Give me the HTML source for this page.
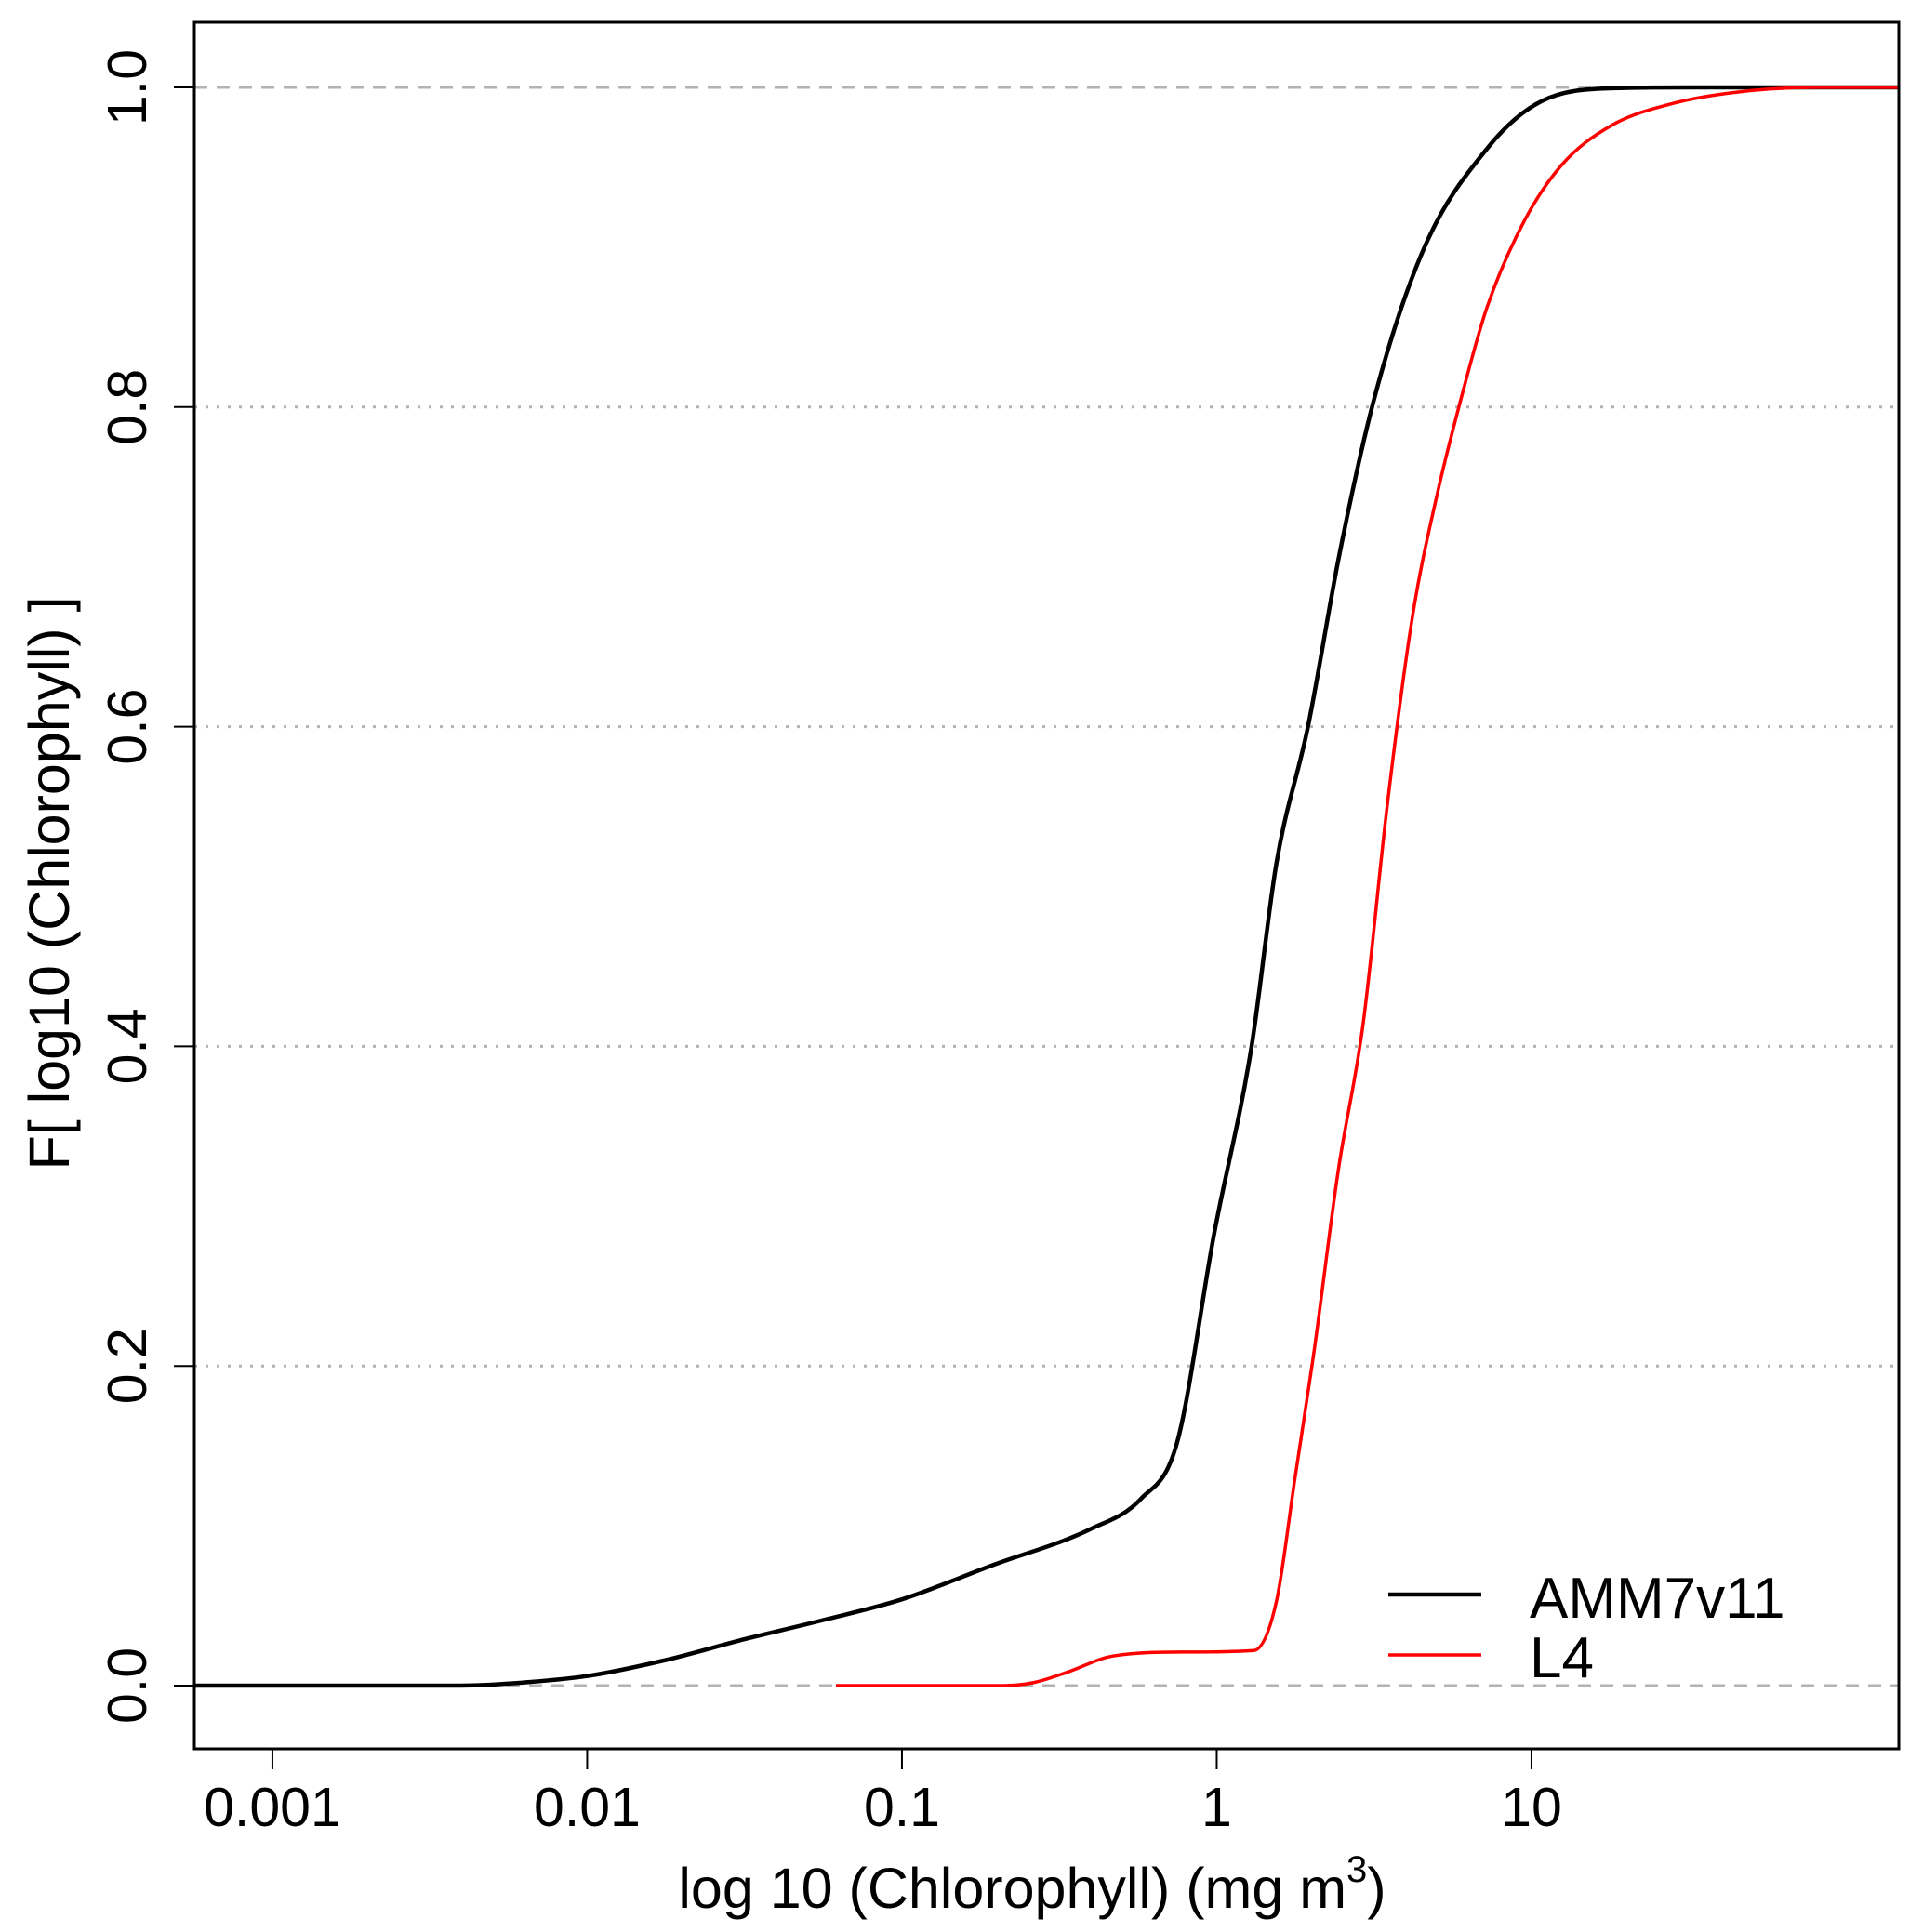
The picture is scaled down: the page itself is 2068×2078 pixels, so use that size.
<!DOCTYPE html>
<html><head><meta charset="utf-8"><style>
html,body{margin:0;padding:0;background:#fff;}
svg{display:block;font-family:"Liberation Sans",sans-serif;}
</style></head><body>
<svg id="chart" width="2068" height="2078" viewBox="0 0 2068 2078" xmlns="http://www.w3.org/2000/svg" style="position:absolute;left:0;top:0"></svg>
<script>
const xTickVals=[0.001,0.01,0.1,1,10];
const xTickLabels=["0.001","0.01","0.1","1","10"];
const yTickVals=[0,0.2,0.4,0.6,0.8,1.0];
const yTickLabels=["0.0","0.2","0.4","0.6","0.8","1.0"];
const ammLogX=[-3.25,-2.4,-2.2,-2.0,-1.75,-1.5,-1.25,-1.0,-0.717,-0.4,-0.24,-0.126,-0.008,0.11,0.19,0.29,0.39,0.504,0.66,0.86,1.01,1.2,1.5,2.2];
const ammF=[0,0,0.002,0.006,0.016,0.029,0.041,0.054,0.075,0.098,0.117,0.152,0.283,0.399,0.515,0.6,0.708,0.808,0.9,0.962,0.989,0.999,1,1];
const l4LogX=[-1.21,-0.68,-0.58,-0.48,-0.33,-0.1,0.118,0.189,0.248,0.307,0.386,0.465,0.543,0.622,0.701,0.78,0.858,0.976,1.094,1.252,1.45,1.65,1.9,2.2];
const l4F=[0,0,0.002,0.008,0.0185,0.021,0.022,0.052,0.129,0.206,0.322,0.414,0.553,0.669,0.746,0.808,0.862,0.916,0.951,0.976,0.99,0.997,1,1];

const L=209,R=2042,T=24,B=1881;
const xMin=-3.248,xMax=2.167;
const y0=1813,y1=94;
const sx=lx=>L+(lx-xMin)/(xMax-xMin)*(R-L);
const sy=f=>y0+(y1-y0)*f;
const svg=document.getElementById('chart');
const NS='http://www.w3.org/2000/svg';
function mk(tag,attrs,parent){const e=document.createElementNS(NS,tag);for(const k in attrs)e.setAttribute(k,attrs[k]);(parent||svg).appendChild(e);return e;}

yTickVals.forEach((v,i)=>{
  const g=mk('line',{x1:L,x2:R,y1:sy(v),y2:sy(v),stroke:'#b3b3b3','stroke-width':3,'stroke-dasharray':(v===0||v===1)?'14,10':'3,9'});
  
  
});
function monoPath(px,py){
  const n=px.length,d=[],m=[];
  for(let i=0;i<n-1;i++)d.push((py[i+1]-py[i])/(px[i+1]-px[i]));
  m[0]=d[0];m[n-1]=d[n-2];
  for(let i=1;i<n-1;i++){m[i]=(d[i-1]*d[i]<=0)?0:(d[i-1]+d[i])/2;}
  for(let i=0;i<n-1;i++){if(d[i]===0){m[i]=0;m[i+1]=0;continue;}const a=m[i]/d[i],b=m[i+1]/d[i],s=a*a+b*b;if(s>9){const t=3/Math.sqrt(s);m[i]=t*a*d[i];m[i+1]=t*b*d[i];}}
  let s='M'+px[0].toFixed(1)+' '+py[0].toFixed(1);
  for(let i=0;i<n-1;i++){const h=(px[i+1]-px[i])/3;
    s+=' C'+(px[i]+h).toFixed(1)+' '+(py[i]+m[i]*h).toFixed(1)+' '+(px[i+1]-h).toFixed(1)+' '+(py[i+1]-m[i+1]*h).toFixed(1)+' '+px[i+1].toFixed(1)+' '+py[i+1].toFixed(1);}
  return s;
}
function series(lx,f,color,w,name){
  const d=monoPath(lx.map(sx),f.map(sy));
  const p=mk('path',{d:d,fill:'none',stroke:color,'stroke-width':w,'stroke-linejoin':'round','clip-path':'url(#plotclip)'});
  
  
}
const defs=mk('defs',{});
const cp=mk('clipPath',{id:'plotclip'},defs);
mk('rect',{x:L,y:T,width:R-L,height:B-T},cp);
series(ammLogX,ammF,'#000',4.5,'amm7v11-line');
series(l4LogX,l4F,'#ff0000',3.5,'l4-line');
const fr=mk('rect',{x:L,y:T,width:R-L,height:B-T,fill:'none',stroke:'#000','stroke-width':3});


xTickVals.forEach((v,i)=>{
  const x=sx(Math.log10(v));
  const t=mk('line',{x1:x,x2:x,y1:B,y2:B+22,stroke:'#000','stroke-width':2});
  
  
  const tx=mk('text',{x:x,y:1964,'font-size':59,'text-anchor':'middle'});
  tx.textContent=xTickLabels[i];
  
  
});
yTickVals.forEach((v,i)=>{
  const y=sy(v);
  const t=mk('line',{x1:L-22,x2:L,y1:y,y2:y,stroke:'#000','stroke-width':2});
  
  
  const tx=mk('text',{x:0,y:0,'font-size':59,'text-anchor':'middle',transform:`translate(157,${y}) rotate(-90)`});
  tx.textContent=yTickLabels[i];
  
  
});
</script>
<svg style="position:absolute;left:0;top:0" width="2068" height="2078">
<text x="1110" y="2052" font-size="61" text-anchor="middle" font-family="Liberation Sans, sans-serif">log 10 (Chlorophyll) (mg m<tspan font-size="40" dy="-28">3</tspan><tspan dy="28">)</tspan></text>
<text transform="translate(74,950) rotate(-90)" font-size="61" text-anchor="middle" font-family="Liberation Sans, sans-serif">F[ log10 (Chlorophyll) ]</text>
<line x1="1493" x2="1593" y1="1715" y2="1715" stroke="#000" stroke-width="4.5"/>
<text x="1645" y="1740" font-size="62" font-family="Liberation Sans, sans-serif">AMM7v11</text>
<line x1="1493" x2="1593" y1="1780" y2="1780" stroke="#ff0000" stroke-width="3.5"/>
<text x="1645" y="1804" font-size="62" font-family="Liberation Sans, sans-serif">L4</text>
</svg>
</body></html>
